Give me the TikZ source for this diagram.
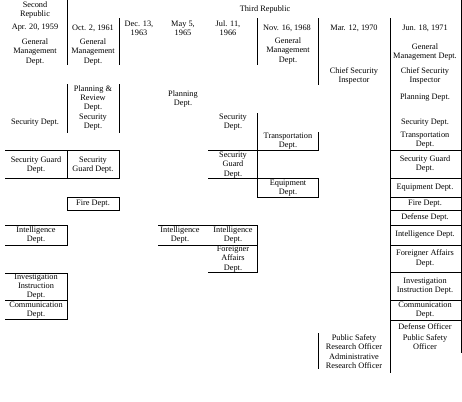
\documentclass[tikz,border=0pt]{standalone}
\usepackage{fontspec}
\setmainfont{Liberation Serif}
\begin{document}
\begin{tikzpicture}[x=1pt,y=-1pt]
\tikzset{
  lbl/.style={align=center, inner sep=0pt, font=\fontsize{8.3}{9.2}\selectfont},
  rule/.style={line width=1pt, line cap=rect}
}
\useasboundingbox (0,0) rectangle (462,401);
% headers
\node[lbl] (srep) at (35,10) {Second\\Republic};
\node[lbl] (d59) at (35,28) {Apr. 20, 1959};
\node[lbl] (d61) at (93,28) {Oct. 2, 1961};
\node[lbl] (d63) at (139,28.5) {Dec. 13,\\1963};
\node[lbl] (d65) at (183,28.5) {May 5,\\1965};
\node[lbl] (d66) at (228,28.5) {Jul. 11,\\1966};
\node[lbl] (trep) at (265,10) {Third Republic};
\node[lbl] (d68) at (287,28) {Nov. 16, 1968};
\node[lbl] (d70) at (354,28) {Mar. 12, 1970};
\node[lbl] (d71) at (425,28) {Jun. 18, 1971};
% general management
\node[lbl] (gm59) at (35,52) {General\\Management\\Dept.};
\node[lbl] (gm61) at (93,52) {General\\Management\\Dept.};
\node[lbl] (gm68) at (288,51) {General\\Management\\Dept.};
\node[lbl] (gm71) at (425,52) {General\\Management Dept.};
\node[lbl] (csi70) at (354,76) {Chief Security\\Inspector};
\node[lbl] (csi71) at (425,76) {Chief Security\\Inspector};
% planning / security
\node[lbl] (pr61) at (93,108) {Planning \&\\Review\\Dept.\\Security\\Dept.};
\node[lbl] (sd59) at (35,123) {Security Dept.};
\node[lbl] (pl65) at (183,99) {Planning\\Dept.};
\node[lbl] (pl71) at (425,98) {Planning Dept.};
\node[lbl] (sd66) at (233,122) {Security\\Dept.};
\node[lbl] (sd71) at (425,123) {Security Dept.};
\node[lbl] (tr68) at (288,141) {Transportation\\Dept.};
\node[lbl] (tr71) at (425,140.5) {Transportation\\Dept.};
% security guard
\node[lbl] (sg59) at (36,165) {Security Guard\\Dept.};
\node[lbl] (sg61) at (93,165) {Security\\Guard Dept.};
\node[lbl] (sg66) at (233,165) {Security\\Guard\\Dept.};
\node[lbl] (sg71) at (425,164) {Security Guard\\Dept.};
\node[lbl] (eq68) at (288,188) {Equipment\\Dept.};
\node[lbl] (eq71) at (425,188) {Equipment Dept.};
\node[lbl] (fd61) at (93,204) {Fire Dept.};
\node[lbl] (fd71) at (425,204) {Fire Dept.};
\node[lbl] (df71) at (425,217.5) {Defense Dept.};
% intelligence
\node[lbl] (in59) at (36,235) {Intelligence\\Dept.};
\node[lbl] (in65) at (180,235) {Intelligence\\Dept.};
\node[lbl] (in66) at (233,235) {Intelligence\\Dept.};
\node[lbl] (in71) at (425,235) {Intelligence Dept.};
\node[lbl] (fa66) at (233,259) {Foreigner\\Affairs\\Dept.};
\node[lbl] (fa71) at (425,258.5) {Foreigner Affairs\\Dept.};
\node[lbl] (iv59) at (36,286.5) {Investigation\\Instruction\\Dept.};
\node[lbl] (iv71) at (425,286.5) {Investigation\\Instruction Dept.};
\node[lbl] (cm59) at (36,310) {Communication\\Dept.};
\node[lbl] (cm71) at (425,310) {Communication\\Dept.};
\node[lbl] (do71) at (425,327) {Defense Officer};
\node[lbl] (ps71) at (425,342.5) {Public Safety\\Officer};
\node[lbl] (psr70) at (354,342.5) {Public Safety\\Research Officer};
\node[lbl] (ar70) at (354,361.5) {Administrative\\Research Officer};
% ---- rules
\draw[rule] (67,0) -- (67,65);
\draw[rule] (67,85) -- (67,132);
\draw[rule] (119,19) -- (119,65);
\draw[rule] (119,85) -- (119,132);
\draw[rule] (257,19) -- (257,65);
\draw[rule] (318,19) -- (318,85);
\draw[rule] (390,19) -- (390,372);
\draw[rule] (461,0) -- (461,352);
% security guard left
\draw[rule] (5,150) -- (119,150);
\draw[rule] (5,178) -- (119,178);
\draw[rule] (67,150) -- (67,178);
\draw[rule] (119,150) -- (119,178);
% fire
\draw[rule] (67,197) rectangle (119,210);
% intelligence left
\draw[rule] (5,225) -- (67,225) -- (67,245) -- (5,245);
% investigation / communication
\draw[rule] (5,273) -- (67,273) -- (67,319) -- (5,319);
\draw[rule] (5,300) -- (67,300);
% middle block
\draw[rule] (257,113) -- (257,197);
\draw[rule] (208,150) -- (318,150);
\draw[rule] (208,178) -- (318,178);
\draw[rule] (318,132) -- (318,150);
\draw[rule] (318,178) -- (318,197) -- (257,197);
% intelligence middle
\draw[rule] (158,225) -- (257,225);
\draw[rule] (158,245) -- (257,245);
\draw[rule] (257,225) -- (257,272) -- (208,272);
% right column
\foreach \yy in {150,178,197,210,225,245,272,300,320}
  \draw[rule] (390,\yy) -- (461,\yy);
% bottom of Mar 12
\draw[rule] (318,333) -- (318,368);
\end{tikzpicture}
\end{document}
